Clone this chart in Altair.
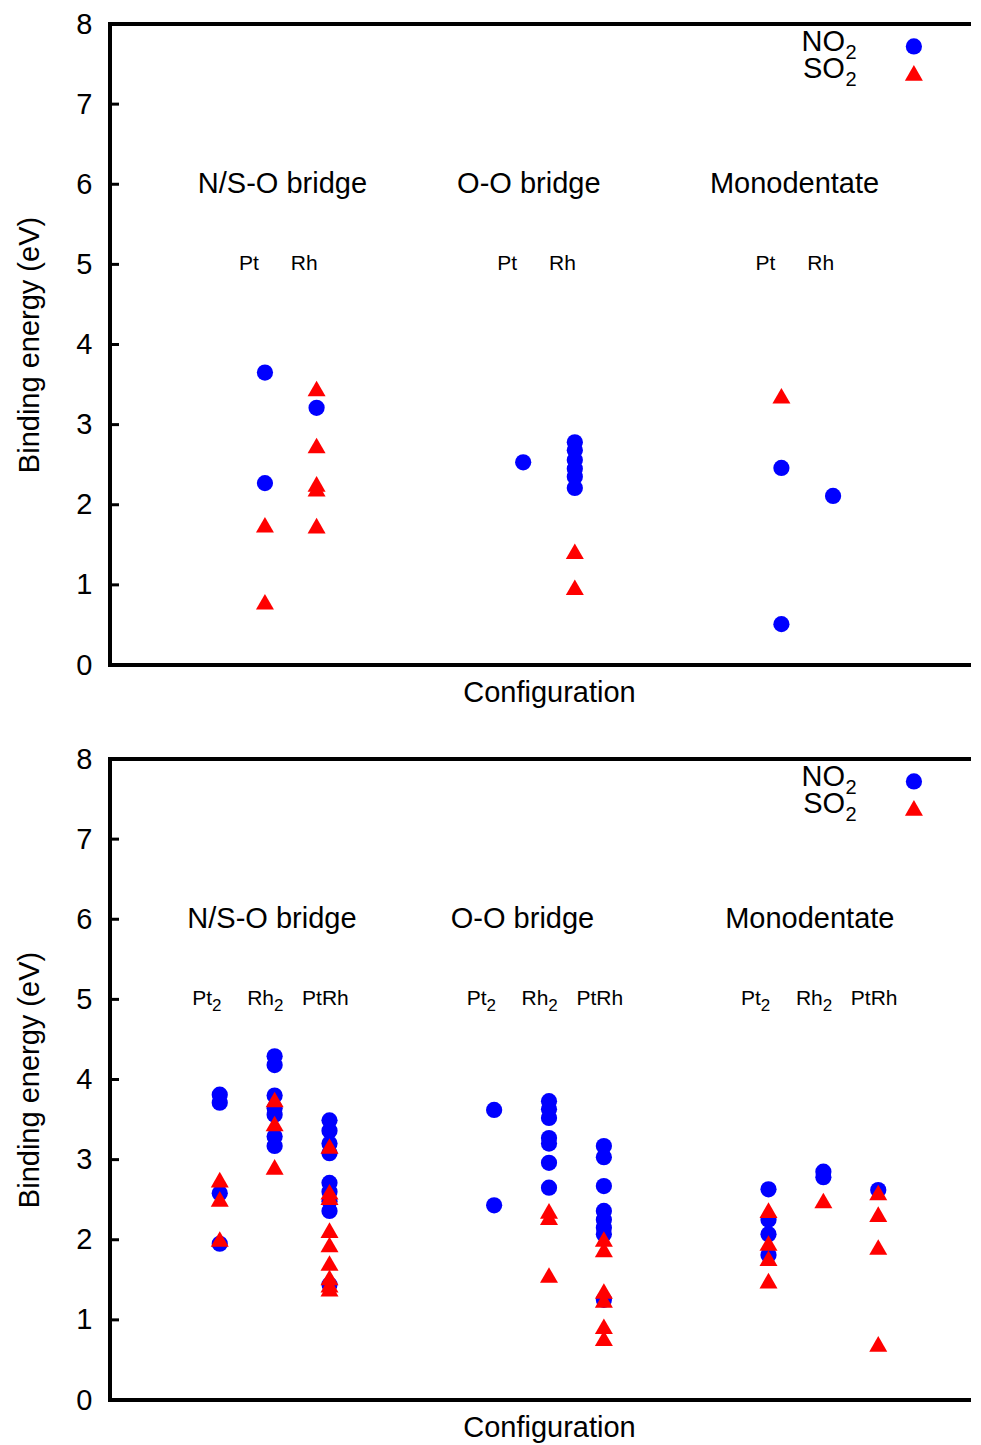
import altair as alt
import pandas as pd

FONT = "Liberation Sans"
BLUE = "#0000ff"
RED = "#ff0000"

# ---------------- data ----------------
GROUPS = ["N/S-O bridge", "O-O bridge", "Monodentate"]
GROUP_POS = [1, 2, 3]
Y_TICKS = [0, 1, 2, 3, 4, 5, 6, 7, 8]

# top panel (single atoms)
TOP_METALS = ["Pt", "Rh"]
TOP_OFFSETS = [-0.1, 0.1]
TOP_SUB_OFFSETS = [-0.2, 0.0]          # left edge of Pt / Rh labels
TOP_GROUP_LABEL_X = [0.64, 1.644, 2.623]
TOP_X_DOMAIN = [0.3, 3.7]

top_nso_pt_no2 = [3.65, 2.27]
top_nso_rh_no2 = [3.21]
top_oo_pt_no2 = [2.53]
top_oo_rh_no2 = [2.78, 2.68, 2.56, 2.45, 2.35, 2.21]
top_mono_pt_no2 = [2.46, 0.51]
top_mono_rh_no2 = [2.11]

top_nso_pt_so2 = [1.75, 0.79]
top_nso_rh_so2 = [3.45, 2.74, 2.26, 2.20, 1.74]
top_oo_pt_so2 = []
top_oo_rh_so2 = [1.42, 0.97]
top_mono_pt_so2 = [3.36]
top_mono_rh_so2 = []

# bottom panel (dimers)
BOT_METALS = ["Pt", "Rh", "PtRh"]
BOT_SUBSCRIPT = ["2", "2", ""]
BOT_OFFSETS = [-0.2, 0.0, 0.2]
BOT_SUB_OFFSETS = [-0.3, -0.1, 0.1]
BOT_GROUP_LABEL_X = [0.682, 1.642, 2.642]
BOT_X_DOMAIN = [0.4, 3.6]

bot_nso_pt2_no2 = [3.81, 3.71, 2.58, 1.95]
bot_nso_rh2_no2 = [4.29, 4.18, 3.80, 3.64, 3.56, 3.29, 3.17]
bot_nso_ptrh_no2 = [3.49, 3.36, 3.20, 3.08, 2.71, 2.60, 2.48, 2.36, 1.44]
bot_oo_pt2_no2 = [3.62, 2.43]
bot_oo_rh2_no2 = [3.73, 3.63, 3.52, 3.27, 3.20, 2.96, 2.65]
bot_oo_ptrh_no2 = [3.17, 3.03, 2.67, 2.36, 2.25, 2.15, 2.07, 1.25]
bot_mono_pt2_no2 = [2.63, 2.25, 2.07, 1.81]
bot_mono_rh2_no2 = [2.85, 2.78]
bot_mono_ptrh_no2 = [2.62]

bot_nso_pt2_so2 = [2.75, 2.51, 2.01]
bot_nso_rh2_so2 = [3.75, 3.45, 2.91]
bot_nso_ptrh_so2 = [3.17, 2.60, 2.53, 2.12, 1.94, 1.71, 1.53, 1.44, 1.39]
bot_oo_pt2_so2 = []
bot_oo_rh2_so2 = [2.36, 2.28, 1.56]
bot_oo_ptrh_so2 = [2.01, 1.88, 1.36, 1.25, 0.92, 0.77]
bot_mono_pt2_so2 = [2.37, 1.96, 1.77, 1.49]
bot_mono_rh2_so2 = [2.49]
bot_mono_ptrh_so2 = [2.59, 2.32, 1.91, 0.70]

# legend (data coordinates per panel)
LEGEND_SPECIES = ["NO", "SO"]
LEGEND_SYMBOL_Y = [7.72, 7.39]
LEGEND_TEXT_Y = [7.78, 7.44]
TOP_LEGEND_SYMBOL_X = 3.413
TOP_LEGEND_TEXT_X = 3.146
BOT_LEGEND_SYMBOL_X = 3.33
BOT_LEGEND_TEXT_X = 3.079

TOP_NO2 = [[top_nso_pt_no2, top_nso_rh_no2], [top_oo_pt_no2, top_oo_rh_no2],
           [top_mono_pt_no2, top_mono_rh_no2]]
TOP_SO2 = [[top_nso_pt_so2, top_nso_rh_so2], [top_oo_pt_so2, top_oo_rh_so2],
           [top_mono_pt_so2, top_mono_rh_so2]]
BOT_NO2 = [[bot_nso_pt2_no2, bot_nso_rh2_no2, bot_nso_ptrh_no2],
           [bot_oo_pt2_no2, bot_oo_rh2_no2, bot_oo_ptrh_no2],
           [bot_mono_pt2_no2, bot_mono_rh2_no2, bot_mono_ptrh_no2]]
BOT_SO2 = [[bot_nso_pt2_so2, bot_nso_rh2_so2, bot_nso_ptrh_so2],
           [bot_oo_pt2_so2, bot_oo_rh2_so2, bot_oo_ptrh_so2],
           [bot_mono_pt2_so2, bot_mono_rh2_so2, bot_mono_ptrh_so2]]

W = 878
H = 641
BIG = 29


def points_df(table, offsets):
    rows = []
    for gi, g in enumerate(GROUP_POS):
        for mi, off in enumerate(offsets):
            for v in table[gi][mi]:
                rows.append({"x": g + off, "y": v})
    return pd.DataFrame(rows, columns=["x", "y"])


def panel(no2, so2, offsets, metals, subs, sub_offsets, group_label_x,
          xdomain, leg_sym_x, leg_txt_x):
    xenc = alt.X("x:Q", scale=alt.Scale(domain=xdomain, nice=False, zero=False),
                 axis=alt.Axis(title="Configuration", labels=False, ticks=False,
                               domain=False, grid=False, titlePadding=13,
                               tickSize=0))
    yenc = alt.Y("y:Q", scale=alt.Scale(domain=[0, 8], nice=False, zero=False),
                 axis=alt.Axis(title="Binding energy (eV)", values=Y_TICKS,
                               ticks=False, tickSize=0, domain=False, grid=False,
                               labelPadding=18, titlePadding=31))

    no2_df = points_df(no2, offsets)
    so2_df = points_df(so2, offsets)

    layers = []
    layers.append(alt.Chart(no2_df).mark_point(
        shape="circle", filled=True, size=263, color=BLUE, opacity=1,
        strokeWidth=0).encode(x=xenc, y=yenc))
    layers.append(alt.Chart(so2_df).mark_point(
        shape="triangle-up", filled=True, size=324, color=RED, opacity=1,
        strokeWidth=0).encode(x=xenc, y=yenc))

    # group titles
    gdf = pd.DataFrame({"x": group_label_x, "y": [6] * 3, "t": GROUPS})
    layers.append(alt.Chart(gdf).mark_text(
        align="left", baseline="middle", fontSize=BIG, font=FONT,
        color="black").encode(x=xenc, y=yenc, text="t:N"))

    # metal labels
    srows = []
    for g in GROUP_POS:
        for mi, m in enumerate(metals):
            srows.append({"x": g + sub_offsets[mi], "y": 5, "t": m, "mi": mi})
    sdf = pd.DataFrame(srows)
    layers.append(alt.Chart(sdf).mark_text(
        align="left", baseline="middle", fontSize=21, font=FONT,
        color="black").encode(x=xenc, y=yenc, text="t:N"))
    base_w = {"Pt": 19.8, "Rh": 26.8}
    for mi, m in enumerate(metals):
        if subs and subs[mi]:
            sub_df = sdf[sdf["mi"] == mi].assign(t=subs[mi])
            layers.append(alt.Chart(sub_df).mark_text(
                align="left", baseline="middle", fontSize=17, font=FONT,
                color="black", dx=base_w[m], dy=7).encode(
                    x=xenc, y=yenc, text="t:N"))

    # legend
    ldf_c = pd.DataFrame({"x": [leg_sym_x], "y": [LEGEND_SYMBOL_Y[0]]})
    ldf_t = pd.DataFrame({"x": [leg_sym_x], "y": [LEGEND_SYMBOL_Y[1]]})
    layers.append(alt.Chart(ldf_c).mark_point(
        shape="circle", filled=True, size=263, color=BLUE, opacity=1,
        strokeWidth=0).encode(x=xenc, y=yenc))
    layers.append(alt.Chart(ldf_t).mark_point(
        shape="triangle-up", filled=True, size=324, color=RED, opacity=1,
        strokeWidth=0).encode(x=xenc, y=yenc))
    ltx = pd.DataFrame({"x": [leg_txt_x] * 2, "y": LEGEND_TEXT_Y,
                        "t": LEGEND_SPECIES, "s": ["2", "2"]})
    layers.append(alt.Chart(ltx).mark_text(
        align="right", baseline="middle", fontSize=BIG, font=FONT,
        color="black").encode(x=xenc, y=yenc, text="t:N"))
    layers.append(alt.Chart(ltx).mark_text(
        align="left", baseline="middle", fontSize=20, font=FONT,
        color="black", dx=0.5, dy=11).encode(x=xenc, y=yenc, text="s:N"))

    # inward ticks (left and right borders)
    tdf = pd.DataFrame({"y": Y_TICKS[1:-1]})
    layers.append(alt.Chart(tdf).mark_rule(color="black", strokeWidth=3).encode(
        y=yenc, x=alt.value(0), x2=alt.value(9)))
    layers.append(alt.Chart(tdf).mark_rule(color="black", strokeWidth=3).encode(
        y=yenc, x=alt.value(W - 9), x2=alt.value(W)))

    return alt.layer(*layers).properties(width=W, height=H)


top = panel(TOP_NO2, TOP_SO2, TOP_OFFSETS, TOP_METALS, None, TOP_SUB_OFFSETS,
            TOP_GROUP_LABEL_X, TOP_X_DOMAIN, TOP_LEGEND_SYMBOL_X, TOP_LEGEND_TEXT_X)
bottom = panel(BOT_NO2, BOT_SO2, BOT_OFFSETS, BOT_METALS, BOT_SUBSCRIPT,
               BOT_SUB_OFFSETS, BOT_GROUP_LABEL_X, BOT_X_DOMAIN,
               BOT_LEGEND_SYMBOL_X, BOT_LEGEND_TEXT_X)

chart = alt.vconcat(top, bottom, spacing=34).properties(
    padding={"left": 5, "top": 0, "right": -21, "bottom": 0}
).configure_view(
    stroke="black", strokeWidth=4
).configure_axis(
    labelFont=FONT, titleFont=FONT, labelFontSize=BIG, titleFontSize=BIG,
    labelColor="black", titleColor="black", titleFontWeight="normal"
)

chart.save("out.html", embed_options={"renderer": "svg", "actions": False})
